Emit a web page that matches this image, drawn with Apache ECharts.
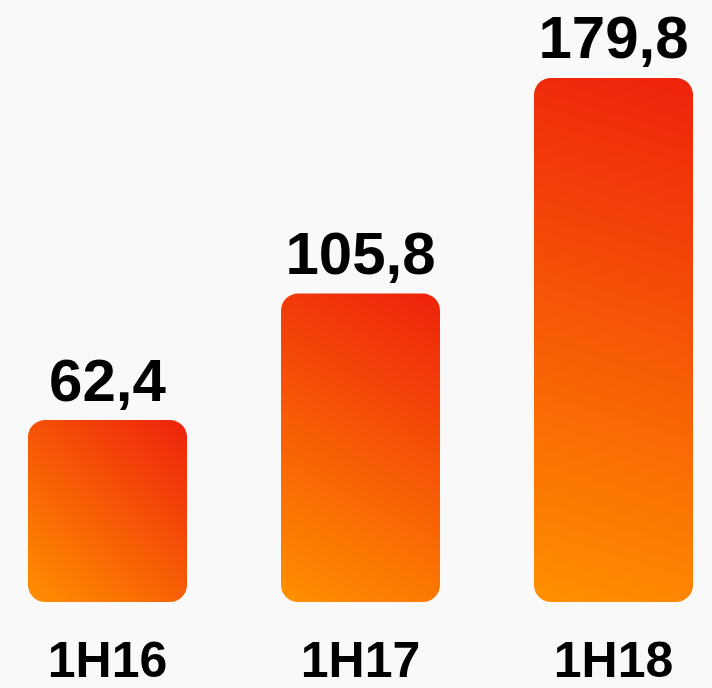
<!DOCTYPE html>
<html>
<head>
<meta charset="utf-8">
<script src="https://cdn.jsdelivr.net/npm/echarts@6/dist/echarts.min.js"></script>
<style>
  html, body { margin: 0; padding: 0; background: #f9f9f9; overflow: hidden; }
  /* 차트 영역을 화면보다 넓게 잡고 왼쪽으로 이동 */
  #chart { width: 759px; height: 688px; margin-left: -19px; }
</style>
</head>
<body>
<div id="chart"></div>
<script>
// 반기별 값
const periods = ['1H16', '1H17', '1H18'];
const values = [62.4, 105.8, 179.8];

const chart = echarts.init(document.getElementById('chart'));

const barColor = new echarts.graphic.LinearGradient(0, 1, 1, 0, [
    { offset: 0, color: '#ff9000' },
    { offset: 1, color: '#ee220c' }
]);

const option = {
    backgroundColor: '#f9f9f9',
    grid: {
        left: 0,
        right: 0,
        top: 19,
        bottom: 86
    },
    xAxis: {
        type: 'category',
        data: periods,
        axisLine: { show: false },
        axisTick: { show: false },
        axisLabel: {
            margin: 36,
            color: '#000',
            fontSize: 50,
            fontWeight: 'bold',
            fontFamily: '"Liberation Sans", Arial, sans-serif'
        }
    },
    yAxis: {
        type: 'value',
        min: 0,
        max: 200,
        show: false,
        splitLine: { show: false }
    },
    series: [{
        type: 'bar',
        data: values,
        barWidth: 159,
        itemStyle: {
            color: barColor,
            borderRadius: 17
        },
        label: {
            show: true,
            position: 'top',
            distance: 6,
            color: '#000',
            fontSize: 60,
            fontWeight: 'bold',
            fontFamily: '"Liberation Sans", Arial, sans-serif',
            formatter: p => String(p.value).replace('.', ',')
        }
    }]
};

chart.setOption(option);
</script>
</body>
</html>
